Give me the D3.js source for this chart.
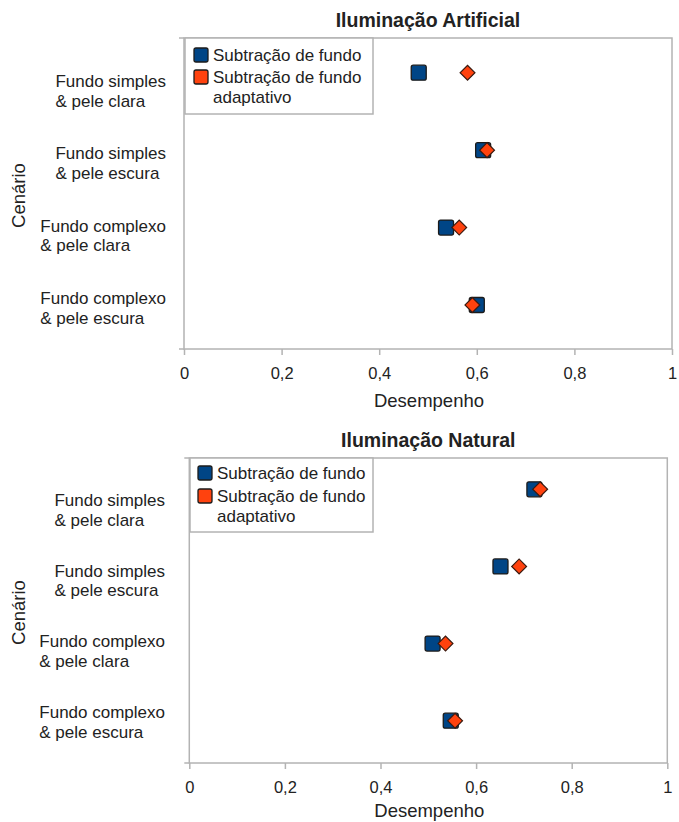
<!DOCTYPE html>
<html><head><meta charset="utf-8">
<script src="https://cdn.jsdelivr.net/npm/d3@7"></script>
<style>
html,body{margin:0;padding:0;background:#fff;}
svg{display:block;font-family:"Liberation Sans",Arial,sans-serif;}
</style></head>
<body>
<svg id="chart" width="679" height="822"></svg>
<script>
// ---- data ----
const categories = [
  ["Fundo simples", "& pele clara"],
  ["Fundo simples", "& pele escura"],
  ["Fundo complexo", "& pele clara"],
  ["Fundo complexo", "& pele escura"]
];
const seriesNames = ["Subtração de fundo", "Subtração de fundo adaptativo"];
const legendLines = [["Subtração de fundo"], ["Subtração de fundo", "adaptativo"]];
const titles = ["Iluminação Artificial", "Iluminação Natural"];
const xTicks = [0, 0.2, 0.4, 0.6, 0.8, 1];
const xTickLabels = ["0", "0,2", "0,4", "0,6", "0,8", "1"];
const artificialBasic    = [0.481, 0.613, 0.537, 0.600];
const artificialAdaptive = [0.581, 0.621, 0.564, 0.591];
const naturalBasic       = [0.722, 0.651, 0.509, 0.547];
const naturalAdaptive    = [0.734, 0.690, 0.536, 0.556];
const xTitle = "Desempenho";
const yTitle = "Cenário";

// ---- layout / style ----
const colors = ["#004586", "#ff420e"];
const frameColor = "#b3b3b3";
const textColor = "#222";
const svg = d3.select("#chart");

const panels = [
  {title: titles[0], basic: artificialBasic, adaptive: artificialAdaptive,
   left: 184, right: 672, top: 38, bottom: 349, rowFirst: 72.7, rowLast: 305,
   labFirst: 87, labLast: 304, labRight: 166,
   legend: {x0: 185, x1: 373, y0: 38, y1: 114, sq: 194, tx: 213, rows: [55, 77, 97]},
   titleY: 27, xTitleY: 407},
  {title: titles[1], basic: naturalBasic, adaptive: naturalAdaptive,
   left: 189.3, right: 667.3, top: 458, bottom: 763, rowFirst: 489.3, rowLast: 720.7,
   labFirst: 506, labLast: 718, labRight: 165,
   legend: {x0: 190, x1: 373, y0: 458, y1: 532, sq: 198, tx: 217, rows: [473, 496, 516]},
   titleY: 447, xTitleY: 816.5}
];

const catKeys = categories.map(c => c.join(" "));

panels.forEach(p => {
  const g = svg.append("g");
  const x = d3.scaleLinear().domain([0, 1]).range([p.left, p.right]);
  const y = d3.scalePoint().domain(catKeys).range([p.rowFirst, p.rowLast]);
  const yl = d3.scalePoint().domain(catKeys).range([p.labFirst, p.labLast]);

  // frame
  g.append("rect").attr("x", p.left).attr("y", p.top)
    .attr("width", p.right - p.left).attr("height", p.bottom - p.top)
    .attr("fill", "none").attr("stroke", frameColor).attr("stroke-width", 1.5);

  // left ticks at top and bottom
  [p.top, p.bottom].forEach(yy => {
    g.append("line").attr("x1", p.left - 5).attr("x2", p.left)
      .attr("y1", yy).attr("y2", yy).attr("stroke", frameColor).attr("stroke-width", 1.5);
  });

  // x axis
  const ax = g.append("g").attr("transform", `translate(0,${p.bottom})`)
    .call(d3.axisBottom(x).tickValues(xTicks)
      .tickFormat((d, i) => xTickLabels[i]).tickSizeInner(6).tickSizeOuter(0).tickPadding(12));
  ax.select(".domain").remove();
  ax.selectAll(".tick line").attr("stroke", frameColor).attr("stroke-width", 1.5);
  ax.selectAll(".tick text").attr("fill", textColor).attr("font-size", 16.5)
    .attr("font-family", "Liberation Sans, Arial, sans-serif");

  // title
  g.append("text").attr("x", (p.left + p.right) / 2).attr("y", p.titleY)
    .attr("text-anchor", "middle").attr("font-weight", "bold").attr("font-size", 19.5)
    .attr("fill", textColor).text(p.title);

  // x title
  g.append("text").attr("x", (p.left + p.right) / 2 + 1).attr("y", p.xTitleY)
    .attr("text-anchor", "middle").attr("font-size", 18.5).attr("fill", textColor).text(xTitle);

  // y title
  g.append("text").attr("transform", `translate(25,${(p.top + p.bottom) / 2 + 2}) rotate(-90)`)
    .attr("text-anchor", "middle").attr("font-size", 18.5).attr("fill", textColor).text(yTitle);

  // category labels (block right aligned, lines left aligned)
  categories.forEach((lines, i) => {
    const t = g.append("text").attr("font-size", 17).attr("fill", textColor)
      .attr("y", yl(catKeys[i]));
    lines.forEach((ln, j) => {
      t.append("tspan").attr("x", 0).attr("dy", j === 0 ? 0 : 19.5).text(ln);
    });
    const w = d3.max(t.selectAll("tspan").nodes(), n => n.getComputedTextLength());
    t.selectAll("tspan").attr("x", p.labRight - w);
  });

  // legend
  const L = p.legend;
  g.append("rect").attr("x", L.x0).attr("y", L.y0).attr("width", L.x1 - L.x0)
    .attr("height", L.y1 - L.y0).attr("fill", "#fff").attr("stroke", frameColor).attr("stroke-width", 1.5);
  let row = 0;
  seriesNames.forEach((s, si) => {
    g.append("rect").attr("x", L.sq).attr("y", L.rows[row] - 7).attr("width", 14).attr("height", 14)
      .attr("rx", 2).attr("fill", colors[si]).attr("stroke", "#1b1b1b").attr("stroke-width", 1.3);
    legendLines[si].forEach(ln => {
      g.append("text").attr("x", L.tx).attr("y", L.rows[row] + 6).attr("font-size", 17)
        .attr("fill", textColor).text(ln);
      row++;
    });
  });

  // markers: squares (basic)
  g.selectAll("rect.basic").data(p.basic).join("rect").attr("class", "basic")
    .attr("x", d => x(d) - 7.5).attr("y", (d, i) => y(catKeys[i]) - 7.5)
    .attr("width", 15).attr("height", 15).attr("rx", 2)
    .attr("fill", colors[0]).attr("stroke", "#1b1b1b").attr("stroke-width", 1.3);

  // diamonds (adaptive)
  const dsym = d3.symbol().type(d3.symbolSquare).size(110);
  g.selectAll("path.adaptive").data(p.adaptive).join("path").attr("class", "adaptive")
    .attr("d", dsym)
    .attr("transform", (d, i) => `translate(${x(d)},${y(catKeys[i])}) rotate(45)`)
    .attr("fill", colors[1]).attr("stroke", "#3a1a10").attr("stroke-width", 1.2);
});
</script>
</body></html>
